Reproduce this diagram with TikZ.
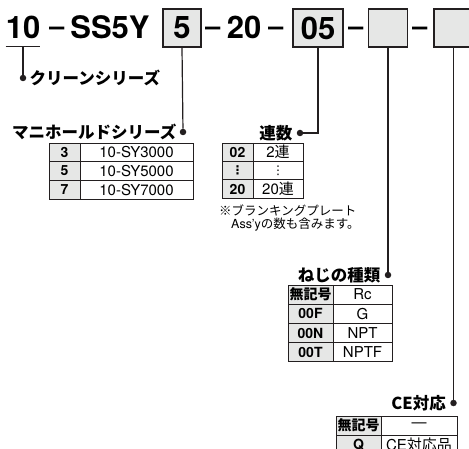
\documentclass[tikz,border=0pt]{standalone}
\usepackage{fontspec}
\setmainfont{TeX Gyre Heros}
\newfontfamily\jp{Noto Sans CJK JP}
\newfontfamily\dejavu{DejaVu Sans}
\usetikzlibrary{positioning}

\definecolor{boxgray}{HTML}{E6E7E6}
\definecolor{inkgray}{HTML}{231F20}

\newcommand\rowdots{{\dejavu\fontsize{12}{13}\selectfont ⋮}}

\begin{document}
\begin{tikzpicture}[x=1pt, y=-1pt,
    codebox/.style={draw=inkgray, line width=1.4pt, fill=boxgray, inner sep=0pt, minimum height=38pt},
    bigtext/.style={font=\fontsize{31}{36}\selectfont\bfseries, inner sep=0pt},
    dashtext/.style={font=\fontsize{27}{32}\selectfont\bfseries, inner sep=0pt, anchor=base},
    leader/.style={draw=inkgray, line width=1.2pt},
    dot/.style={circle, fill=inkgray, inner sep=0pt, minimum size=6.5pt},
    labeltext/.style={font=\jp\bfseries\fontsize{16.5}{18}\selectfont, inner sep=0pt},
    cellline/.style={draw=inkgray, line width=0.9pt},
    celltext/.style={font=\fontsize{15}{17}\selectfont, inner sep=0pt},
    codetext/.style={font=\fontsize{14}{16}\selectfont\bfseries, inner sep=0pt},
    notetext/.style={font=\fontsize{12.5}{14}\selectfont, inner sep=0pt}]

    % 画面の大きさ
    \useasboundingbox (0,0) rectangle (469,449);

    % 型式表示（上段）
    \node[bigtext, anchor=base] (t10) at (23,39) {10};
    \node[dashtext] (dash1) at (57,35.5) {–};
    \node[bigtext, anchor=base] (ss5y) at (110,39) {SS5Y};
    \node[codebox, bigtext, minimum width=38pt] (b1) at (182,28) {5};
    \node[dashtext] (dash2) at (213,35.5) {–};
    \node[bigtext, anchor=base] (t20) at (244,39) {20};
    \node[dashtext] (dash3) at (276,35.5) {–};
    \node[codebox, bigtext, minimum width=50pt] (b2) at (318,28) {05};
    \node[dashtext] (dash4) at (356,35.5) {–};
    \node[codebox, bigtext, minimum width=39pt] (b3) at (388,28) {};
    \node[dashtext] (dash5) at (420,35.5) {–};
    \node[codebox, bigtext, minimum width=39pt] (b4) at (453.5,28) {};

    % クリーンシリーズ
    \coordinate (u10) at ([yshift=-7pt]t10.south);
    \draw[leader] ([yshift=-7pt]t10.south west) -- ([yshift=-7pt]t10.south east);
    \node[dot] (d0) at (23,78) {};
    \draw[leader] (u10) -- (d0);
    \node[labeltext, right=3pt of d0] (lab0) {クリーンシリーズ};

    % 引出線と項目名
    \node[dot] (d1) at (183,132) {};
    \node[dot] (d2) at (300,133) {};
    \node[dot] (d3) at (388,275) {};
    \node[dot] (d4) at (453.5,403) {};
    \draw[leader] (b1.south) -- (d1);
    \draw[leader] (b2.south) |- (d2);
    \draw[leader] (b3.south) -- (d3);
    \draw[leader] (b4.south) -- (d4);
    \node[labeltext, left=3pt of d1] (lab1) {マニホールドシリーズ};
    \node[labeltext, left=4pt of d2] (lab2) {連数};
    \node[labeltext, left=4pt of d3] (lab3) {ねじの種類};
    \node[labeltext, left=4pt of d4] (lab4) {CE対応};

    % マニホールドシリーズの表
    \foreach \code/\model [count=\i] in {3/10-SY3000, 5/10-SY5000, 7/10-SY7000} {
      \pgfmathsetmacro\ya{143+(\i-1)*18.7}
      \pgfmathsetmacro\yb{\ya+18.7}
      \fill[boxgray] (49,\ya) rectangle (80,\yb);
      \draw[cellline] (49,\ya) rectangle (193,\yb);
      \draw[cellline] (80,\ya) -- (80,\yb);
      \node[codetext] (mc-\i) at (64.5,{(\ya+\yb)/2}) {\code};
      \node[celltext] (mm-\i) at (136.5,{(\ya+\yb)/2}) {\model};
    }

    % 連数の表
    \foreach \code/\model [count=\i] in {02/2{\jp 連}, \rowdots/\rowdots, 20/20{\jp 連}} {
      \pgfmathsetmacro\ya{143+(\i-1)*18.4}
      \pgfmathsetmacro\yb{\ya+18.4}
      \fill[boxgray] (222,\ya) rectangle (253,\yb);
      \draw[cellline] (222,\ya) rectangle (303,\yb);
      \draw[cellline] (253,\ya) -- (253,\yb);
      \node[codetext] (sc-\i) at (237.5,{(\ya+\yb)/2}) {\code};
      \node[celltext] (sm-\i) at (278,{(\ya+\yb)/2}) {\model};
    }
    \node[notetext, anchor=west] (note1) at (219,211) {\jp ※ブランキングプレート};
    \node[notetext, anchor=west] (note2) at (231,225) {Ass'y{\jp の数も含みます。}};

    % ねじの種類の表
    \foreach \code/\model [count=\i] in {{\jp 無記号}/Rc, 00F/G, 00N/NPT, 00T/NPTF} {
      \pgfmathsetmacro\ya{285+(\i-1)*19.2}
      \pgfmathsetmacro\yb{\ya+19.2}
      \fill[boxgray] (288,\ya) rectangle (333,\yb);
      \draw[cellline] (288,\ya) rectangle (392,\yb);
      \draw[cellline] (333,\ya) -- (333,\yb);
      \node[codetext] (tc-\i) at (310.5,{(\ya+\yb)/2}) {\code};
      \node[celltext] (tm-\i) at (362.5,{(\ya+\yb)/2}) {\model};
    }

    % CE対応の表
    \foreach \code/\model [count=\i] in {{\jp 無記号}/---, Q/CE{\jp 対応品}} {
      \pgfmathsetmacro\ya{416+(\i-1)*19}
      \pgfmathsetmacro\yb{\ya+19}
      \fill[boxgray] (336,\ya) rectangle (381,\yb);
      \draw[cellline] (336,\ya) rectangle (457,\yb);
      \draw[cellline] (381,\ya) -- (381,\yb);
      \node[codetext] (cc-\i) at (358.5,{(\ya+\yb)/2}) {\code};
      \node[celltext] (cm-\i) at (419,{(\ya+\yb)/2}) {\model};
    }

  \end{tikzpicture}
\end{document}
